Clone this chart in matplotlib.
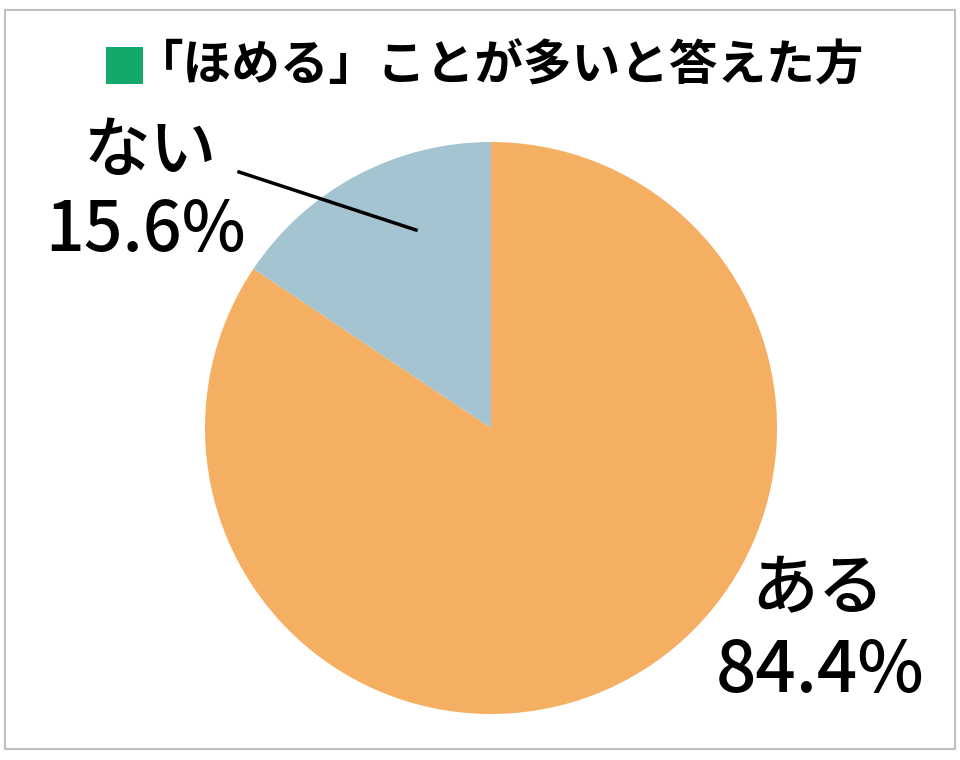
import matplotlib
matplotlib.use('Agg')
import matplotlib.pyplot as plt
from matplotlib.patches import Rectangle

plt.rcParams['font.family'] = ['Noto Sans CJK JP', 'DejaVu Sans']

# データ
title = '「ほめる」ことが多いと答えた方'
labels = ['ある', 'ない']
values = [84.4, 15.6]
colors = ['#F5AF62', '#A3C4D0']

W, H = 960, 760
fig = plt.figure(figsize=(9.6, 7.6), dpi=100)
ax = fig.add_axes([0, 0, 1, 1])

# 外枠
ax.add_patch(Rectangle((5, H - 749), 950, 739, fill=False, edgecolor='#C0C0C0', lw=1.5))

# 円グラフ
ax.pie(values, colors=colors, startangle=90, counterclock=False,
       center=(491, H - 428), radius=286, frame=True,
       wedgeprops=dict(linewidth=0))
ax.set_xlim(0, W)
ax.set_ylim(0, H)
ax.set_aspect('equal')
ax.axis('off')

# タイトル
ax.add_patch(Rectangle((106, H - 84), 37, 37, color='#12A96A', lw=0))
ax.text(500, H - 66, title, fontsize=35, ha='center', va='center', weight='bold')

# ラベル
ax.text(818, H - 590, labels[0], fontsize=48, ha='center', va='center', weight='medium')
ax.text(820, H - 672, '{:.1f}%'.format(values[0]), fontsize=51, ha='center', va='center', weight='medium')
ax.text(150, H - 152, labels[1], fontsize=48, ha='center', va='center', weight='medium')
ax.text(146, H - 231, '{:.1f}%'.format(values[1]), fontsize=49, ha='center', va='center', weight='medium')

# 引き出し線
ax.plot([239, 416], [H - 172, H - 230], color='black', lw=2.5)

fig.savefig('out.png', dpi=100)
